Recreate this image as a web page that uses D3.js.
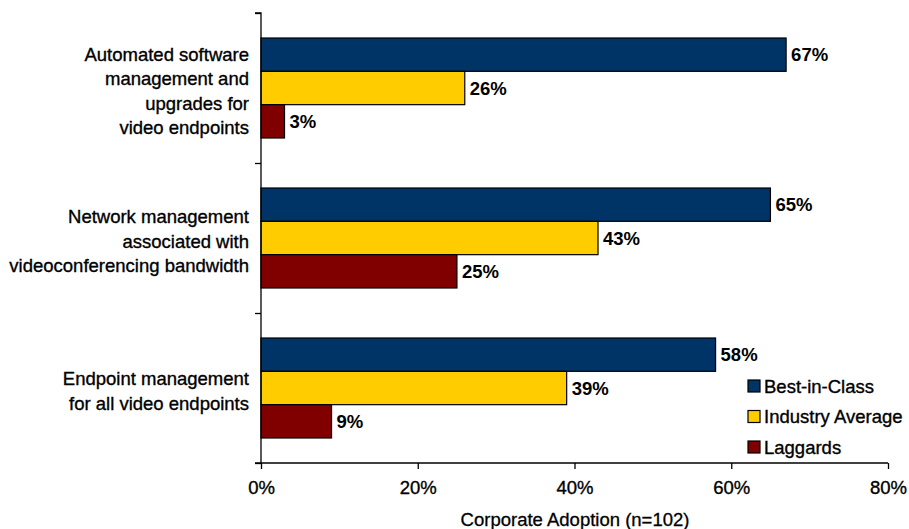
<!DOCTYPE html>
<html><head><meta charset="utf-8">
<script src="https://cdn.jsdelivr.net/npm/d3@7"></script>
<style>body{margin:0;background:#fff;} svg{display:block;} text{font-family:"Liberation Sans",Arial,sans-serif;fill:#000;}</style>
</head><body><svg id="c" width="909" height="529"></svg>
<script>
const categories = [
  ["Automated software","management and","upgrades for","video endpoints"],
  ["Network management","associated with","videoconferencing bandwidth"],
  ["Endpoint management","for all video endpoints"]
];
const seriesNames = ["Best-in-Class","Industry Average","Laggards"];
const bestInClass = [67, 65, 58];
const industryAverage = [26, 43, 39];
const laggards = [3, 25, 9];
const xTicks = [0, 20, 40, 60, 80];
const colors = ["#003366","#FFCC00","#800000"];

(function(){
const values = [bestInClass, industryAverage, laggards];
const svg = d3.select("#c");
const pL = 261, pR = 888, pT = 13, pB = 463;
const x = d3.scaleLinear().domain([0,80]).range([pL,pR]);
const y = d3.scaleBand().domain(d3.range(categories.length)).range([pT,pB]).paddingInner(0).paddingOuter(0);
const inner = d3.scaleBand().domain(d3.range(seriesNames.length)).range([0,y.bandwidth()]).paddingOuter(0.75).paddingInner(0);

// bars
categories.forEach((c,i)=>{
  values.forEach((s,j)=>{
    const yy = y(i)+inner(j);
    svg.append("rect").attr("x",x(0)).attr("y",yy).attr("width",x(s[i])-x(0)).attr("height",inner.bandwidth())
      .attr("fill",colors[j]).attr("stroke","#000").attr("stroke-width",1.2);
    svg.append("text").attr("x",x(s[i])+5).attr("y",yy+inner.bandwidth()/2).attr("dy","0.36em")
      .attr("font-size",18.5).attr("font-weight","bold").text(s[i]+"%");
  });
});

// y axis
const yAxis = d3.axisLeft(d3.scaleLinear().domain([0,3]).range([pT,pB])).ticks(3).tickSize(6).tickFormat("");
const ya = svg.append("g").attr("transform",`translate(${pL},0)`).call(yAxis);
ya.selectAll("path,line").attr("stroke","#000").attr("stroke-width",1.3);
ya.select(".domain").attr("d",`M-6,${pT}H0V${pB}`);
// x axis
const xAxis = d3.axisBottom(x).tickValues(xTicks).tickSize(6).tickFormat(d=>d+"%");
const xa = svg.append("g").attr("transform",`translate(0,${pB})`).call(xAxis);
xa.selectAll("path,line").attr("stroke","#000").attr("stroke-width",1.3);
xa.select(".domain").attr("d",`M${pL-6},0H${pR}`);
xa.selectAll("text").attr("font-size",18.5).attr("font-family","Liberation Sans, Arial, sans-serif").attr("fill","#000")
  .attr("stroke","#000").attr("stroke-width",0.35).attr("y",24).attr("dy","0.36em");

// category labels
categories.forEach((lines,i)=>{
  const lh = 24.5;
  const cy = y(i)+y.bandwidth()/2 + 3;
  const t = svg.append("text").attr("text-anchor","end").attr("font-size",18.5)
    .attr("stroke","#000").attr("stroke-width",0.35);
  lines.forEach((l,k)=>{
    t.append("tspan").attr("x",249).attr("y",cy+(k-(lines.length-1)/2)*lh).attr("dy","0.36em").text(l);
  });
});

// axis title
svg.append("text").attr("x",575).attr("y",519).attr("dy","0.36em").attr("text-anchor","middle")
  .attr("font-size",18.5).attr("stroke","#000").attr("stroke-width",0.3).text("Corporate Adoption (n=102)");

// legend
seriesNames.forEach((n,j)=>{
  const ly = 386 + j*30.5;
  svg.append("rect").attr("x",748).attr("y",ly-6).attr("width",12).attr("height",12)
    .attr("fill",colors[j]).attr("stroke","#000").attr("stroke-width",1.2);
  svg.append("text").attr("x",764).attr("y",ly).attr("dy","0.36em").attr("font-size",18.5)
    .attr("stroke","#000").attr("stroke-width",0.35).text(n);
});
})();
</script></body></html>
